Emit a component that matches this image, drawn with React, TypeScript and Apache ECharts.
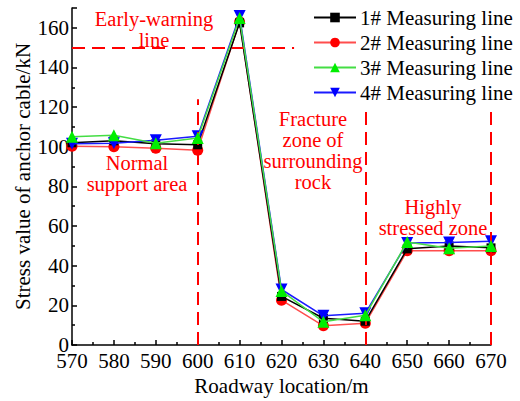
import React, { useEffect, useRef } from "react";
import * as echarts from "echarts";

const locations = [570, 580, 590, 600, 610, 620, 630, 640, 650, 660, 670];
const line1 = [102, 103, 101.5, 101, 162.5, 24.5, 13.5, 12, 48.5, 50, 49];
const line2 = [100.3, 100, 99.3, 98.3, 163, 22.6, 9.7, 11, 47.5, 47.5, 47.5];
const line3 = [105, 105.8, 101.8, 104.4, 165, 27.3, 11.7, 15, 52, 48.8, 50];
const line4 = [101.5, 101.8, 103.3, 105.3, 166, 28, 14.7, 16, 51.5, 51.7, 52.3];
const seriesNames = ["1# Measuring line", "2# Measuring line", "3# Measuring line", "4# Measuring line"];
const warningLine = { value: 150, from: 570, to: 623 };
const zoneBounds = [
  { x: 600, top: 124 },
  { x: 640, top: 121 },
  { x: 670, top: 121 },
];
const annotations = [
  "Early-warning\nline",
  "Normal\nsupport area",
  "Fracture\nzone of\nsurrounding\nrock",
  "Highly\nstressed zone",
];

const FONT = "Liberation Serif";

export default function App() {
  const ref = useRef<HTMLDivElement>(null);
  useEffect(() => {
    document.body.style.margin = "0";
    if (!ref.current) return;
    const chart = echarts.init(ref.current, null, { renderer: "svg" });
    const red = "#ff0000";
    const markLines: any[] = [
      [
        { coord: [warningLine.from, warningLine.value] },
        { coord: [warningLine.to, warningLine.value] },
      ],
      ...zoneBounds.map((z) => [{ coord: [z.x, 0] }, { coord: [z.x, z.top] }]),
    ];
    const mk = (name: string, data: number[], color: string, lineColor: string, symbol: string, size: number, rotate = 0, z = 2, extra: any = {}) => ({
      name,
      type: "line",
      data: locations.map((x, i) => [x, data[i]]),
      symbol,
      symbolSize: size,
      symbolRotate: rotate,
      z,
      itemStyle: { color },
      lineStyle: { color: lineColor, width: 1.5 },
      ...extra,
    });
    const note = (text: string, x: number, top: number) => ({
      type: "text",
      x,
      y: top,
      style: {
        text,
        fill: red,
        fontSize: 20.5,
        fontFamily: FONT,
        lineHeight: 21,
        align: "center",
        verticalAlign: "top",
      },
      z: 10,
    });
    chart.setOption({
      animation: false,
      textStyle: { fontFamily: FONT },
      grid: { left: 72, right: 29, top: 8, bottom: 55 },
      legend: {
        orient: "vertical",
        left: 308,
        top: 2,
        itemWidth: 42,
        itemHeight: 12,
        itemGap: 4,
        data: seriesNames,
        textStyle: { fontSize: 21, color: "#000", fontFamily: FONT, padding: [0, 0, 0, -1] },
      },
      xAxis: {
        type: "value",
        min: 570,
        max: 670,
        interval: 10,
        name: "Roadway location/m",
        nameLocation: "middle",
        nameGap: 30,
        nameMoveOverlap: false,
        nameTextStyle: { fontSize: 21, color: "#000", fontFamily: FONT },
        axisLine: { lineStyle: { color: "#000", width: 1.5 } },
        axisTick: { inside: true, length: 5, lineStyle: { color: "#000", width: 1.5 } },
        minorTick: { show: true, splitNumber: 2, length: 3, lineStyle: { color: "#000", width: 1.5 } },
        splitLine: { show: false },
        axisLabel: { fontSize: 21, color: "#000", margin: 5, fontFamily: FONT },
      },
      yAxis: {
        type: "value",
        min: 0,
        max: 170,
        interval: 20,
        name: "Stress value of anchor cable/kN",
        nameLocation: "middle",
        nameGap: 39,
        nameMoveOverlap: false,
        nameTextStyle: { fontSize: 21, color: "#000", fontFamily: FONT },
        axisLine: { show: true, lineStyle: { color: "#000", width: 1.5 } },
        axisTick: { show: true, inside: true, length: 5, lineStyle: { color: "#000", width: 1.5 } },
        minorTick: { show: true, splitNumber: 2, length: 3, lineStyle: { color: "#000", width: 1.5 } },
        splitLine: { show: false },
        axisLabel: { fontSize: 21, color: "#000", margin: 3, showMaxLabel: false, fontFamily: FONT },
      },
      series: [
        mk(seriesNames[1], line2, "#ff0000", "#ff4d4d", "circle", 11, 0, 2),
        mk(seriesNames[0], line1, "#000000", "#000000", "rect", 9, 0, 3, {
          markLine: {
            silent: true,
            symbol: "none",
            label: { show: false },
            lineStyle: { color: red, type: [13, 7], width: 2 },
            data: markLines,
          },
        }),
        mk(seriesNames[3], line4, "#0000ff", "#1a1aff", "triangle", 12, 180, 4),
        mk(seriesNames[2], line3, "#00ee00", "#44dd44", "triangle", 12, 0, 5),
      ],
      graphic: [
        note(annotations[0], 154, 8),
        note(annotations[1], 137, 152),
        note(annotations[2], 313, 108),
        note(annotations[3], 433, 196),
      ],
    });
    return () => chart.dispose();
  }, []);
  return <div ref={ref} style={{ width: 520, height: 401 }} />;
}
